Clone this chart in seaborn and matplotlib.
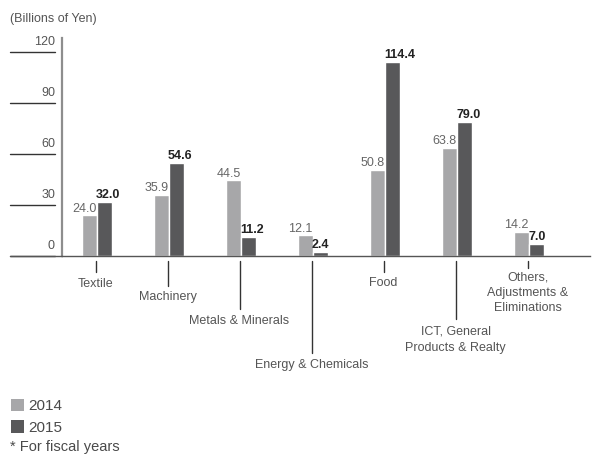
import matplotlib
matplotlib.use("Agg")
import matplotlib.pyplot as plt
from matplotlib.patches import Patch
from matplotlib.lines import Line2D
import matplotlib.transforms as mtransforms
import pandas as pd
import seaborn as sns

# Segment profit, billions of yen
segments = ["Textile", "Machinery", "Metals & Minerals", "Energy & Chemicals",
            "Food", "ICT, General\nProducts & Realty",
            "Others,\nAdjustments &\nEliminations"]
values_2014 = [24.0, 35.9, 44.5, 12.1, 50.8, 63.8, 14.2]
values_2015 = [32.0, 54.6, 11.2, 2.4, 114.4, 79.0, 7.0]
years = ["2014", "2015"]
yticks = [0, 30, 60, 90, 120]

# bottom end of each label's leader line and label anchor (pixels from top)
leader_bottom = [272, 286, 309, 353, 272, 319, 268]
label_top = [278, 291, 315, 359, 277, 326, 271]

C14 = "#a7a7a9"
C15 = "#58585a"
TXT = "#555555"

df = pd.DataFrame({
    "segment": segments * 2,
    "value": values_2014 + values_2015,
    "year": [years[0]] * len(segments) + [years[1]] * len(segments),
})

sns.set_theme(style="white")
plt.rcParams["font.family"] = ["Liberation Sans", "DejaVu Sans"]

W, H = 603, 454
fig = plt.figure(figsize=(W / 100, H / 100), dpi=100)
ax_left, ax_right, ax_base, ax_top = 62, 590, 256, 38.4
ax = fig.add_axes([ax_left / W, 1 - ax_base / H,
                   (ax_right - ax_left) / W, (ax_base - ax_top) / H])

sns.barplot(data=df, x="segment", y="value", hue="year",
            palette=[C14, C15], width=0.444, gap=0.0625,
            saturation=1, legend=False, ax=ax)

step = 72.0
ax.set_xlim((ax_left - 97) / step, (ax_right - 97) / step)
ax.set_ylim(0, 128)

ax.set_xlabel("")
ax.set_ylabel("")
ax.set_xticks([])
ax.set_yticks([])
for side in ["top", "right"]:
    ax.spines[side].set_visible(False)
ax.spines["left"].set_color("#8e8e8e")
ax.spines["left"].set_linewidth(1.6)
ax.spines["bottom"].set_color("#555555")
ax.spines["bottom"].set_linewidth(1.0)

# value labels above bars
bars14, bars15 = ax.containers[0], ax.containers[1]
for bar, v in zip(bars14, values_2014):
    ax.annotate(f"{v:.1f}", (bar.get_x() + bar.get_width(), v),
                xytext=(0, 0.5), textcoords="offset points",
                ha="right", va="bottom", fontsize=9, color="#666666")
for bar, v in zip(bars15, values_2015):
    ax.annotate(f"{v:.1f}", (bar.get_x(), v),
                xytext=(-1, 0.5), textcoords="offset points",
                ha="left", va="bottom", fontsize=9, color="#222222",
                fontweight="bold",
                family=["Liberation Sans Narrow", "Liberation Sans"])

# short horizontal reference marks with their values, left of the axis
ypix = lambda v: ax_base - v * (ax_base - ax_top) / 128
for t in yticks:
    py = ypix(t)
    fig.add_artist(Line2D([10 / W, 55 / W], [1 - py / H, 1 - py / H],
                          color="#333333", lw=1.0))
    fig.text(55 / W, 1 - (py - 4) / H, f"{t}", ha="right", va="bottom",
             fontsize=9, color=TXT)
fig.add_artist(Line2D([10 / W, ax_left / W], [1 - ax_base / H, 1 - ax_base / H],
                      color="#555555", lw=1.0))

fig.text(10 / W, 1 - 19 / H, "(Billions of Yen)", ha="left", va="center",
         fontsize=9, color=TXT)

# category labels hung from leader lines
tr = mtransforms.blended_transform_factory(ax.transData, fig.transFigure)
for i, name in enumerate(segments):
    x = i - 0.02
    fig.add_artist(Line2D([x, x], [1 - 261 / H, 1 - leader_bottom[i] / H],
                          color="#333333", lw=1.0, transform=tr))
    fig.text(x, 1 - label_top[i] / H, name, ha="center", va="top",
             fontsize=9, color=TXT, linespacing=1.4,
             transform=tr, multialignment="center")

# legend
handles = [Patch(facecolor=C14, edgecolor="none", label="2014"),
           Patch(facecolor=C15, edgecolor="none", label="2015")]
fig.legend(handles=handles, loc="upper left",
           bbox_to_anchor=(3 / W, 1 - 391 / H), frameon=False,
           fontsize=11, handlelength=0.9, handleheight=0.9,
           handletextpad=0.25, labelspacing=0.45, borderpad=0,
           labelcolor="#4a4a4a")
fig.text(10 / W, 1 - 447 / H, "* For fiscal years", ha="left", va="center",
         fontsize=10.5, color="#4a4a4a")

fig.savefig("out.png", dpi=100)
